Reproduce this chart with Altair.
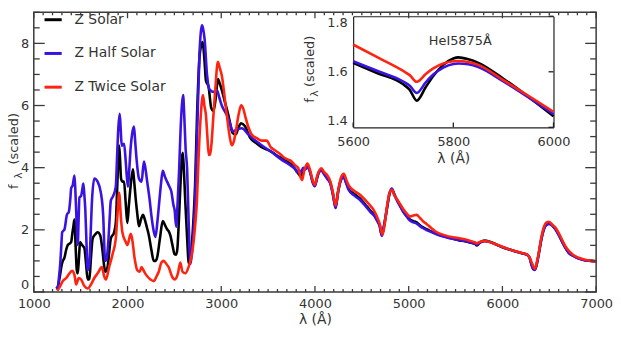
import altair as alt
import pandas as pd

# ---------------- data ----------------
SERIES = ["Z Solar", "Z Half Solar", "Z Twice Solar"]
COLORS = ["#000000", "#3a12e2", "#ff2412"]

z_solar = [
    (1240, 0.10), (1258, 0.18), (1275, 0.45), (1300, 0.90), (1310, 1.00), (1328, 1.11), (1345, 1.35),
    (1363, 1.51), (1380, 1.55), (1399, 1.61), (1412, 1.90), (1423, 2.12), (1434, 2.33), (1446, 1.50),
    (1459, 0.70), (1469, 0.60), (1482, 1.10), (1494, 1.61), (1515, 1.51), (1540, 1.41), (1555, 1.00),
    (1575, 0.40), (1593, 0.42), (1610, 1.10), (1628, 1.72), (1655, 1.85), (1681, 1.92), (1709, 1.82),
    (1734, 1.31), (1750, 0.85), (1762, 0.65), (1787, 0.80), (1805, 1.30), (1822, 1.72), (1857, 1.92),
    (1875, 2.22), (1893, 3.60), (1910, 4.71), (1920, 4.30), (1931, 3.65), (1945, 3.55), (1963, 3.55),
    (1980, 2.90), (1998, 2.22), (2015, 2.80), (2034, 3.44), (2058, 3.95), (2070, 3.60), (2086, 3.04),
    (2105, 2.50), (2122, 2.12), (2145, 2.35), (2164, 2.48), (2185, 2.33), (2205, 2.10), (2228, 1.82),
    (2255, 1.35), (2280, 1.00), (2300, 1.00), (2316, 1.11), (2345, 1.70), (2376, 2.28), (2400, 2.15),
    (2422, 2.02), (2440, 1.95), (2457, 1.82), (2480, 1.50), (2503, 1.21), (2518, 1.20), (2531, 1.36),
    (2548, 2.30), (2563, 3.34), (2580, 4.30), (2590, 4.48), (2602, 3.90), (2616, 2.94), (2635, 1.80),
    (2655, 0.90), (2670, 1.00), (2686, 1.51), (2705, 2.40), (2721, 3.44), (2742, 5.68), (2767, 7.51),
    (2787, 7.95), (2802, 8.04), (2820, 7.50), (2837, 6.80), (2865, 6.60), (2893, 5.93), (2918, 5.83),
    (2943, 6.29), (2964, 6.85), (2985, 6.70), (3007, 6.49), (3040, 6.10), (3077, 5.68), (3100, 5.35),
    (3120, 5.12), (3155, 5.07), (3185, 5.30), (3212, 5.43), (3254, 5.33), (3307, 4.97), (3370, 4.80),
    (3431, 4.66), (3490, 4.58), (3537, 4.51), (3590, 4.40), (3643, 4.31), (3700, 4.20), (3749, 4.10),
    (3802, 3.90), (3830, 3.78), (3850, 3.72), (3870, 3.85), (3890, 3.95), (3920, 4.05), (3950, 3.85),
    (3975, 3.55), (3998, 3.42), (4020, 3.65), (4045, 3.88), (4068, 3.92), (4100, 3.80), (4132, 3.66),
    (4165, 3.50), (4195, 3.10), (4220, 2.72), (4245, 3.20), (4275, 3.60), (4305, 3.72), (4330, 3.55),
    (4360, 3.32), (4420, 3.15), (4484, 3.00), (4540, 2.80), (4590, 2.62), (4630, 2.50), (4661, 2.33),
    (4690, 2.15), (4714, 1.83), (4735, 2.10), (4767, 2.66), (4795, 3.15), (4820, 3.30), (4845, 3.15),
    (4872, 2.98), (4908, 2.78), (4943, 2.60), (4980, 2.45), (5014, 2.33), (5050, 2.28), (5085, 2.24),
    (5120, 2.15), (5155, 2.08), (5190, 2.02), (5240, 1.95), (5296, 1.87), (5380, 1.79), (5472, 1.71),
    (5540, 1.66), (5600, 1.632), (5650, 1.594), (5700, 1.555), (5713, 1.535), (5727, 1.496),
    (5745, 1.545), (5760, 1.585), (5780, 1.625), (5800, 1.648), (5810, 1.652), (5830, 1.645),
    (5850, 1.632), (5900, 1.575), (6000, 1.440), (6100, 1.340), (6213, 1.240), (6266, 1.190),
    (6290, 1.100), (6311, 0.880), (6330, 0.740), (6347, 0.720), (6370, 0.950), (6389, 1.250),
    (6415, 1.700), (6442, 2.020), (6470, 2.170), (6496, 2.200), (6530, 2.150), (6565, 2.030),
    (6600, 1.850), (6636, 1.630), (6670, 1.440), (6707, 1.270), (6760, 1.160), (6812, 1.080),
    (6883, 1.020), (6950, 1.000), (7000, 0.990),
]

z_half = [
    (1240, 0.10), (1258, 0.18), (1270, 0.50), (1282, 0.90), (1294, 1.50), (1303, 1.92), (1328, 2.02),
    (1353, 2.48), (1374, 2.58), (1390, 3.00), (1399, 3.34), (1416, 3.44), (1434, 3.75), (1443, 3.30),
    (1452, 2.63), (1461, 1.90), (1469, 1.51), (1478, 2.30), (1487, 3.04), (1505, 3.09), (1520, 3.35),
    (1529, 3.49), (1540, 3.10), (1550, 2.63), (1562, 1.60), (1575, 0.70), (1593, 0.90), (1607, 1.90),
    (1621, 2.94), (1646, 3.65), (1681, 3.55), (1716, 3.19), (1741, 2.43), (1752, 1.50), (1760, 1.00),
    (1775, 1.05), (1797, 1.70), (1810, 2.40), (1822, 2.94), (1847, 3.09), (1875, 3.39), (1888, 4.30),
    (1900, 5.17), (1917, 5.73), (1928, 5.20), (1938, 4.71), (1950, 4.75), (1963, 4.77), (1981, 4.20),
    (1993, 3.70), (2005, 3.39), (2020, 4.00), (2034, 4.66), (2050, 5.10), (2069, 5.32), (2083, 4.80),
    (2097, 4.26), (2122, 3.65), (2150, 3.55), (2175, 4.20), (2190, 4.00), (2210, 3.55), (2235, 3.00),
    (2256, 2.43), (2280, 1.95), (2298, 1.77), (2320, 2.30), (2340, 2.94), (2358, 3.50), (2376, 3.90),
    (2400, 3.70), (2422, 3.55), (2445, 3.40), (2467, 3.24), (2490, 2.80), (2503, 2.63), (2519, 2.10),
    (2535, 2.90), (2551, 3.95), (2566, 5.20), (2580, 6.00), (2593, 6.34), (2605, 5.70), (2620, 4.60),
    (2636, 3.95), (2652, 2.30), (2671, 0.90), (2686, 1.20), (2704, 1.92), (2722, 3.00), (2742, 5.00),
    (2767, 7.60), (2782, 8.35), (2795, 8.58), (2808, 8.45), (2823, 8.12), (2848, 7.00), (2870, 6.55),
    (2883, 6.49), (2918, 6.44), (2954, 6.49), (2980, 6.25), (3007, 5.99), (3040, 5.80), (3077, 5.58),
    (3100, 5.35), (3120, 5.17), (3165, 5.22), (3219, 5.27), (3290, 5.07), (3360, 4.88), (3431, 4.72),
    (3490, 4.60), (3537, 4.51), (3590, 4.38), (3643, 4.26), (3700, 4.15), (3749, 4.05), (3790, 3.95),
    (3810, 3.85), (3830, 3.92), (3850, 3.85), (3875, 4.00), (3900, 3.95), (3920, 4.02), (3950, 3.83),
    (3975, 3.53), (3998, 3.40), (4020, 3.63), (4045, 3.86), (4068, 3.90), (4100, 3.78), (4132, 3.64),
    (4165, 3.48), (4195, 3.08), (4220, 2.70), (4245, 3.18), (4275, 3.58), (4305, 3.70), (4330, 3.52),
    (4360, 3.28), (4420, 3.10), (4484, 2.95), (4540, 2.76), (4590, 2.58), (4630, 2.46), (4661, 2.30),
    (4690, 2.12), (4714, 1.80), (4735, 2.10), (4767, 2.68), (4795, 3.18), (4820, 3.33), (4845, 3.16),
    (4872, 2.97), (4908, 2.76), (4943, 2.57), (4980, 2.42), (5014, 2.30), (5050, 2.24), (5085, 2.20),
    (5120, 2.12), (5155, 2.05), (5190, 1.99), (5240, 1.93), (5296, 1.86), (5380, 1.78), (5472, 1.71),
    (5540, 1.67), (5600, 1.638), (5650, 1.602), (5700, 1.565), (5713, 1.550), (5727, 1.524),
    (5745, 1.562), (5760, 1.590), (5780, 1.615), (5800, 1.628), (5810, 1.630), (5830, 1.627),
    (5850, 1.617), (5900, 1.565), (6000, 1.447), (6100, 1.345), (6213, 1.245), (6266, 1.195),
    (6290, 1.100), (6311, 0.870), (6330, 0.730), (6347, 0.710), (6370, 0.940), (6389, 1.240),
    (6415, 1.690), (6442, 2.010), (6470, 2.160), (6496, 2.190), (6530, 2.140), (6565, 2.020),
    (6600, 1.840), (6636, 1.620), (6670, 1.430), (6707, 1.260), (6760, 1.150), (6812, 1.075),
    (6883, 1.015), (6950, 0.995), (7000, 0.990),
]

z_twice = [
    (1250, 0.04), (1275, 0.15), (1310, 0.35), (1346, 0.45), (1381, 0.60), (1409, 0.68), (1434, 0.55),
    (1452, 0.24), (1480, 0.45), (1505, 0.40), (1540, 0.19), (1575, 0.11), (1610, 0.24), (1646, 0.45),
    (1681, 0.60), (1727, 0.80), (1751, 0.50), (1769, 0.40), (1804, 0.80), (1840, 1.21), (1875, 1.72),
    (1893, 2.50), (1910, 3.19), (1931, 2.33), (1945, 1.92), (1981, 1.61), (1998, 1.51), (2034, 1.87),
    (2050, 1.70), (2075, 1.10), (2104, 0.70), (2130, 0.65), (2150, 0.80), (2170, 0.70), (2199, 0.55),
    (2245, 0.40), (2280, 0.35), (2310, 0.50), (2333, 0.65), (2362, 0.95), (2386, 1.00), (2415, 0.90),
    (2439, 0.80), (2474, 0.50), (2503, 0.40), (2520, 0.45), (2538, 0.60), (2563, 0.95), (2587, 0.65),
    (2616, 0.60), (2651, 0.80), (2686, 1.21), (2704, 1.60), (2721, 2.12), (2740, 2.90), (2760, 4.46),
    (2782, 5.70), (2805, 6.34), (2820, 6.00), (2837, 5.68), (2852, 5.00), (2867, 4.41), (2880, 4.42),
    (2894, 4.70), (2915, 5.60), (2936, 6.49), (2964, 7.41), (2985, 7.20), (3007, 6.95), (3035, 6.30),
    (3060, 5.68), (3090, 5.00), (3113, 4.72), (3135, 4.85), (3155, 5.17), (3185, 5.70), (3212, 6.01),
    (3235, 5.90), (3254, 5.68), (3290, 5.30), (3325, 5.07), (3380, 4.95), (3431, 4.87), (3484, 4.87),
    (3530, 4.65), (3572, 4.56), (3625, 4.45), (3678, 4.31), (3720, 4.25), (3749, 4.21), (3785, 4.08),
    (3820, 4.00), (3845, 3.70), (3862, 3.60), (3885, 3.90), (3920, 4.13), (3945, 3.95), (3975, 3.60),
    (3998, 3.45), (4025, 3.75), (4068, 3.98), (4100, 3.85), (4132, 3.75), (4165, 3.55), (4195, 3.15),
    (4220, 2.78), (4250, 3.30), (4280, 3.70), (4308, 3.80), (4335, 3.60), (4362, 3.42), (4420, 3.25),
    (4484, 3.12), (4540, 2.95), (4590, 2.78), (4630, 2.62), (4661, 2.43), (4690, 2.20), (4721, 1.85),
    (4745, 2.20), (4767, 2.73), (4795, 3.18), (4820, 3.29), (4845, 3.12), (4872, 3.00), (4908, 2.83),
    (4943, 2.66), (4980, 2.52), (5014, 2.43), (5050, 2.46), (5085, 2.48), (5120, 2.38), (5155, 2.27),
    (5190, 2.19), (5240, 2.06), (5296, 1.93), (5380, 1.83), (5472, 1.76), (5540, 1.73), (5600, 1.698),
    (5650, 1.651), (5700, 1.603), (5713, 1.588), (5727, 1.564), (5745, 1.592), (5760, 1.612),
    (5780, 1.630), (5800, 1.638), (5810, 1.639), (5830, 1.635), (5850, 1.625), (5900, 1.570),
    (6000, 1.456), (6072, 1.370), (6143, 1.310), (6213, 1.250), (6266, 1.200), (6295, 1.080),
    (6319, 0.900), (6347, 0.750), (6370, 1.000), (6390, 1.300), (6415, 1.750), (6443, 2.100),
    (6470, 2.240), (6496, 2.260), (6530, 2.170), (6566, 2.070), (6600, 1.900), (6637, 1.680),
    (6670, 1.480), (6707, 1.330), (6760, 1.180), (6813, 1.100), (6883, 1.040), (6950, 1.000),
    (7000, 0.990),
]

X_LABELS = [1000, 2000, 3000, 4000, 5000, 6000, 7000]
X_MINOR = list(range(1000, 7001, 100))
Y_LABELS = [0, 2, 4, 6, 8]
Y_MINOR = [i / 2 for i in range(19)]
INSET_X = [5600, 5800, 6000]
INSET_Y = [1.4, 1.6, 1.8]

rows = []
for name, pts in zip(SERIES, [z_solar, z_half, z_twice]):
    for w, f in pts:
        rows.append({"series": name, "wl": w, "flux": f})
df = pd.DataFrame(rows)
one = pd.DataFrame({"k": [0]})

# tick tables: value, which edge, major/minor
x_ticks_df = pd.DataFrame(
    [{"v": v, "side": s, "major": v in X_LABELS} for v in X_MINOR for s in ("bottom", "top")]
)
y_ticks_df = pd.DataFrame(
    [{"v": v, "side": s, "major": v in Y_LABELS} for v in Y_MINOR for s in ("left", "right")]
)
inset_xt_df = pd.DataFrame({"v": INSET_X})
inset_yt_df = pd.DataFrame({"v": INSET_Y})

# ---------------- layout ----------------
W, H = 567, 282
IX0, IX1, IY0, IY1 = 322, 524, 116, 4   # inset frame inside the plot (px)
XD, YD = [1000, 7000], [0, 9]
IXD, IYD = [5600, 6000], [1.4, 1.8]
# tick lengths in px, converted to data units of the edge-normal axis
XT_MAJ, XT_MIN = 6 * (YD[1] - YD[0]) / H, 3 * (YD[1] - YD[0]) / H
YT_MAJ, YT_MIN = 11 * (XD[1] - XD[0]) / W, 6 * (XD[1] - XD[0]) / W
IXT = 5 * (IYD[1] - IYD[0]) / (IY0 - IY1)
IYT = 5 * (IXD[1] - IXD[0]) / (IX1 - IX0)

FONT = "DejaVu Sans"
TXT = "#333333"
AX = "#3a3a3a"
INK = "#222222"

xs_main = alt.Scale(domain=XD, nice=False, zero=False)
ys_main = alt.Scale(domain=YD, nice=False, zero=False)
xs_in = alt.Scale(domain=IXD, range=[IX0, IX1], nice=False, zero=False)
ys_in = alt.Scale(domain=IYD, range=[IY0, IY1], nice=False, zero=False)

ax_x_main = alt.Axis(orient="bottom", values=X_LABELS, format="d", ticks=False, domain=False,
                     labelPadding=6, labelFlush=False, title="λ (Å)", titlePadding=2)
ax_y_main = alt.Axis(orient="left", values=Y_LABELS, format="d", ticks=False, domain=False,
                     labelPadding=5, labelFlush=True, title=None)
ax_x_in = alt.Axis(orient="bottom", offset=IY0 - H, values=INSET_X, format="d", ticks=False,
                   domain=True, domainColor=INK, domainWidth=1.2,
                   labelPadding=8, labelFlush=False, title="λ (Å)", titlePadding=3)
ax_y_in = alt.Axis(orient="left", offset=-IX0, values=INSET_Y, format=".1f", ticks=False,
                   domain=True, domainColor=INK, domainWidth=1.2,
                   labelPadding=6, labelFlush=True, title=None)

color = alt.Color(
    "series:N",
    scale=alt.Scale(domain=SERIES, range=COLORS),
    legend=alt.Legend(
        title=None, orient="none", legendX=9, legendY=-3, direction="vertical",
        symbolType="stroke", symbolSize=300, symbolStrokeWidth=3,
        labelFontSize=14, labelFont=FONT, labelColor=TXT, labelOffset=11,
        rowPadding=16, padding=0,
    ),
)

# ---- main spectra with labelled axes ----
main_lines = alt.Chart(df).mark_line(strokeWidth=2.6, interpolate="monotone").encode(
    x=alt.X("wl:Q", scale=xs_main, axis=ax_x_main),
    y=alt.Y("flux:Q", scale=ys_main, axis=ax_y_main),
    color=color,
)

# ---- inward tick marks (group sharing one x/y scale with an invisible copy of the lines) ----
main_carrier = alt.Chart(df).mark_line(opacity=0).encode(
    x=alt.X("wl:Q", scale=xs_main, axis=ax_x_main),
    y=alt.Y("flux:Q", scale=ys_main, axis=ax_y_main),
    detail="series:N",
)
main_xticks = alt.Chart(x_ticks_df).transform_calculate(
    p0=f"datum.side === 'bottom' ? {YD[0]} : {YD[1]}",
    p1=(f"datum.side === 'bottom' ? {YD[0]} + (datum.major ? {XT_MAJ} : {XT_MIN})"
        f" : {YD[1]} - (datum.major ? {XT_MAJ} : {XT_MIN})"),
).mark_rule(color=AX, strokeWidth=1.3).encode(
    x=alt.X("v:Q", scale=xs_main, axis=None),
    y=alt.Y("p0:Q", scale=ys_main, axis=None),
    y2=alt.Y2("p1:Q"),
)
main_yticks = alt.Chart(y_ticks_df).transform_calculate(
    p0=f"datum.side === 'left' ? {XD[0]} : {XD[1]}",
    p1=(f"datum.side === 'left' ? {XD[0]} + (datum.major ? {YT_MAJ} : {YT_MIN})"
        f" : {XD[1]} - (datum.major ? {YT_MAJ} : {YT_MIN})"),
).mark_rule(color=AX, strokeWidth=1.3).encode(
    y=alt.Y("v:Q", scale=ys_main, axis=None),
    x=alt.X("p0:Q", scale=xs_main, axis=None),
    x2=alt.X2("p1:Q"),
)
main_tick_group = alt.layer(main_carrier, main_xticks, main_yticks)

# ---- inset ----
inset_data = alt.Chart(df).transform_filter((alt.datum.wl >= IXD[0]) & (alt.datum.wl <= IXD[1]))

inset_lines = inset_data.mark_line(strokeWidth=2.6, interpolate="monotone").encode(
    x=alt.X("wl:Q", scale=xs_in, axis=ax_x_in),
    y=alt.Y("flux:Q", scale=ys_in, axis=ax_y_in),
    color=color,
)

inset_carrier = inset_data.mark_line(opacity=0).encode(
    x=alt.X("wl:Q", scale=xs_in, axis=ax_x_in),
    y=alt.Y("flux:Q", scale=ys_in, axis=ax_y_in),
    detail="series:N",
)
inset_xticks = alt.Chart(inset_xt_df).transform_calculate(
    p0=f"{IYD[0]}", p1=f"{IYD[0] + IXT}"
).mark_rule(color=INK, strokeWidth=1.3).encode(
    x=alt.X("v:Q", scale=xs_in, axis=None),
    y=alt.Y("p0:Q", scale=ys_in, axis=None),
    y2=alt.Y2("p1:Q"),
)
inset_yticks = alt.Chart(inset_yt_df).transform_calculate(
    p0=f"{IXD[1]}", p1=f"{IXD[1] - IYT}"
).mark_rule(color=INK, strokeWidth=1.3).encode(
    y=alt.Y("v:Q", scale=ys_in, axis=None),
    x=alt.X("p0:Q", scale=xs_in, axis=None),
    x2=alt.X2("p1:Q"),
)
inset_tick_group = alt.layer(inset_carrier, inset_xticks, inset_yticks)

# top and right edges of the inset frame (axis domain lines)
inset_frame = inset_data.mark_point(opacity=0).encode(
    x=alt.X("wl:Q", scale=xs_in, axis=alt.Axis(
        orient="bottom", offset=IY1 - H, values=INSET_X, labels=False, ticks=False,
        domain=True, domainColor=INK, domainWidth=1.2, title=None)),
    y=alt.Y("flux:Q", scale=ys_in, axis=alt.Axis(
        orient="left", offset=-IX1, values=INSET_Y, labels=False, ticks=False,
        domain=True, domainColor=INK, domainWidth=1.2, title=None)),
)


def label(text, x, y, size, angle=0):
    return alt.Chart(one).mark_text(
        text=text, font=FONT, fontSize=size, color=TXT, angle=angle,
        align="center", baseline="middle",
    ).encode(x=alt.value(x), y=alt.value(y))


texts = [
    label("(scaled)", -20, 127.5, 13, 270),
    label("λ", -15, 164.5, 11, 270),
    label("f", -20, 176, 13, 270),
    label("(scaled)", 279, 49.5, 13, 270),
    label("λ", 284, 82, 11, 270),
    label("f", 279, 89, 13, 270),
    label("HeI5875Å", 430, 29, 13),
]

chart = (
    alt.layer(main_lines, main_tick_group, inset_lines, inset_tick_group, inset_frame, *texts)
    .resolve_scale(x="independent", y="independent")
    .properties(width=W, height=H, padding={"left": 0, "top": 0, "right": 0, "bottom": 0})
    .configure_view(stroke=AX, strokeWidth=1.5)
    .configure_axis(
        grid=False, labelFont=FONT, labelFontSize=13, labelColor=TXT,
        titleFont=FONT, titleFontSize=14, titleColor=TXT, titleFontWeight="normal",
        tickColor=AX, tickWidth=1.2, domainColor=AX,
    )
)

chart.save("out.html", embed_options={"renderer": "svg", "actions": False})
